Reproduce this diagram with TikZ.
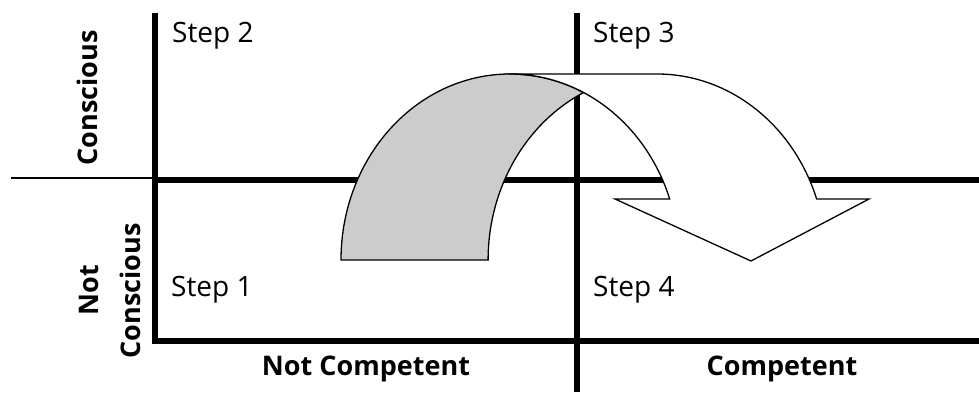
\documentclass[tikz,border=0pt]{standalone}
\usepackage{fontspec}
\setmainfont{Open Sans}
\definecolor{archgray}{RGB}{204,204,204}
\begin{document}
\begin{tikzpicture}[x=1pt,y=1pt,
  gridline/.style={line width=6pt, line cap=butt},
  thinline/.style={line width=1.5pt},
  stepnote/.style={font=\fontsize{28}{32}\selectfont, inner sep=0pt, anchor=base west},
  axislabel/.style={font=\fontsize{27}{32}\selectfont\bfseries, inner sep=0pt, anchor=base},
  arrowpart/.style={draw=black, line width=1.3pt, line join=miter}]
\useasboundingbox (0,0) rectangle (979,392);
% grid
\draw[thinline] (11,214) -- (155,214);
\draw[gridline] (155,379) -- (155,48);
\draw[gridline] (152,212) -- (979,212);
\draw[gridline] (577,379) -- (577,0);
\draw[gridline] (152,51) -- (979,51);
% curved arrow: back (gray) part
\draw[arrowpart, fill=archgray] (341,132)
  arc[start angle=180, end angle=64.2, x radius=169pt, y radius=186pt]
  arc[start angle=115.8, end angle=180, x radius=169pt, y radius=186pt]
  -- cycle;
% curved arrow: front (white) part
\draw[arrowpart, fill=white] (510,318) -- (657,318)
  arc[start angle=90, end angle=19.15, x radius=169pt, y radius=186pt]
  -- (869,193) -- (751,131) -- (615,193) -- (669.7,193)
  arc[start angle=19.15, end angle=90, x radius=169pt, y radius=186pt]
  -- cycle;
% labels
\node[stepnote] (s2) at (172,349) {Step 2};
\node[stepnote] (s3) at (593,349) {Step 3};
\node[stepnote] (s1) at (171,96) {Step 1};
\node[stepnote] (s4) at (593,96) {Step 4};
\node[axislabel] (nc) at (366,17) {Not Competent};
\node[axislabel] (cp) at (782,17) {Competent};
\node[axislabel, rotate=90] (cs) at (97,294) {Conscious};
\node[axislabel, rotate=90] (nt) at (98,102) {Not};
\node[axislabel, rotate=90] (ncs) at (140,101) {Conscious};
\end{tikzpicture}
\end{document}
